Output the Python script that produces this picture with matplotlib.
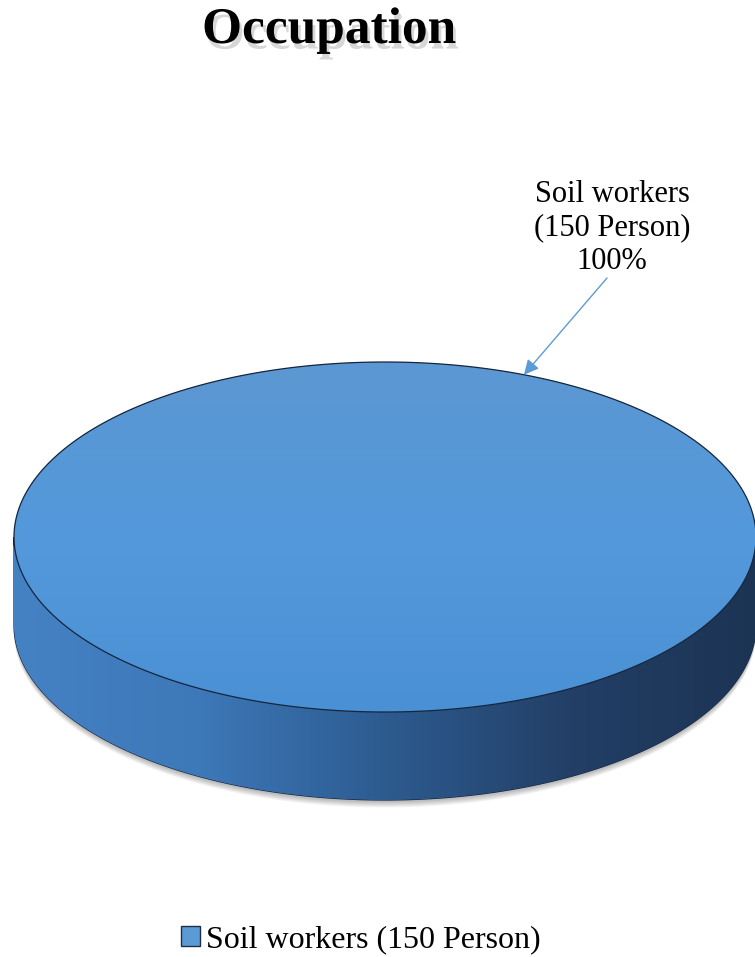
import numpy as np
import matplotlib
matplotlib.use("Agg")
import matplotlib.pyplot as plt
import matplotlib.patheffects as pe
from matplotlib.patches import Polygon, Patch
from matplotlib.colors import LinearSegmentedColormap

# Data
categories = ["Soil workers"]
counts = [150]
units = "Person"
title = "Occupation"

plt.rcParams['font.family'] = ['Liberation Serif', 'DejaVu Serif']

W, H = 755, 957
fig = plt.figure(figsize=(W / 100, H / 100), dpi=100)
ax = fig.add_axes([0, 0, 1, 1])
ax.set_xlim(0, W)
ax.set_ylim(H, 0)
ax.axis('off')

# disk geometry (pixels)
cx, cy = 385, 537
a, b = 371, 175
depth = 88

def ell(t, dy=0):
    return np.column_stack([cx + a * np.cos(t), cy - b * np.sin(t) + dy])

total = sum(counts)
fracs = [c / total for c in counts]
side_cmap = LinearSegmentedColormap.from_list(
    'side', ['#4582c4', '#3d78b8', '#2d5b90', '#233f66', '#1c3454'])
top_cmap = LinearSegmentedColormap.from_list('top', ['#5c97d2', '#5399db', '#4a90d4'])

# soft shadow beneath the disk
tt = np.linspace(0, 2 * np.pi, 400)
for i in range(8):
    sh = Polygon(ell(tt, depth + 2 + i * 0.8), closed=True, facecolor='black',
                 edgecolor='none', alpha=0.035, zorder=1)
    ax.add_patch(sh)

start = 90.0
for cat, n, f in zip(categories, counts, fracs):
    th1 = np.deg2rad(start)
    th2 = np.deg2rad(start - 360 * f)
    t = np.linspace(th1, th2, 500)
    # side wall (front half only)
    if f >= 0.999:
        tf = np.linspace(np.pi, 2 * np.pi, 400)
    else:
        tf = t[np.sin(t) <= 0.001]
    upper = ell(tf)
    lower = ell(tf[::-1], depth)
    side = Polygon(np.vstack([upper, lower]), closed=True, facecolor='none',
                   edgecolor='#14233a', lw=0.9, zorder=2)
    ax.add_patch(side)
    grad = np.linspace(0, 1, 256).reshape(1, -1)
    im = ax.imshow(grad, cmap=side_cmap, aspect='auto',
                   extent=(cx - a, cx + a, cy + b + depth, cy - 5), zorder=2)
    im.set_clip_path(side)

    # top face
    pts = ell(t)
    if f < 0.999:
        pts = np.vstack([[cx, cy], pts])
    top = Polygon(pts, closed=True, facecolor='#5094d4', edgecolor='none', zorder=3)
    ax.add_patch(top)
    tgrad = np.linspace(0, 1, 256).reshape(-1, 1)
    im2 = ax.imshow(tgrad, cmap=top_cmap, aspect='auto',
                    extent=(cx - a, cx + a, cy + b, cy - b), zorder=3)
    im2.set_clip_path(top)
    ax.add_patch(Polygon(pts, closed=True, facecolor='none', edgecolor='#16263d',
                         lw=0.9, zorder=4))

    # data label with leader arrow
    ax.text(612, 228, f"{cat}\n({n} {units})\n{f * 100:.0f}%",
            ha='center', va='center', fontsize=22, linespacing=1.22,
            color='black', zorder=6)
    lab_ang = np.deg2rad(68)
    px, py = ell(np.array([lab_ang]))[0]
    ax.annotate("", xy=(px, py), xytext=(607, 278),
                arrowprops=dict(arrowstyle='-|>', color='#5b9bd5', lw=1.0,
                                mutation_scale=22, shrinkA=0, shrinkB=0),
                zorder=6)
    start -= 360 * f

# title with shadow
ax.text(329, 31, title, ha='center', va='center', fontsize=37,
        fontweight='bold', color='black', zorder=6,
        path_effects=[pe.SimplePatchShadow(offset=(2, -4), shadow_rgbFace='#b0b0b0',
                                           alpha=0.5), pe.Normal()])

# legend
handles = [Patch(facecolor='#5b9bd5', edgecolor='#1f2f45', lw=1.0,
                 label=f"{c} ({n} {units})") for c, n in zip(categories, counts)]
ax.legend(handles=handles, loc='center', bbox_to_anchor=(361 / W, 1 - 940 / H),
          frameon=False, fontsize=23, handlelength=0.6, handleheight=0.6,
          handletextpad=0.2, borderpad=0)

fig.savefig('out.png', dpi=100)
